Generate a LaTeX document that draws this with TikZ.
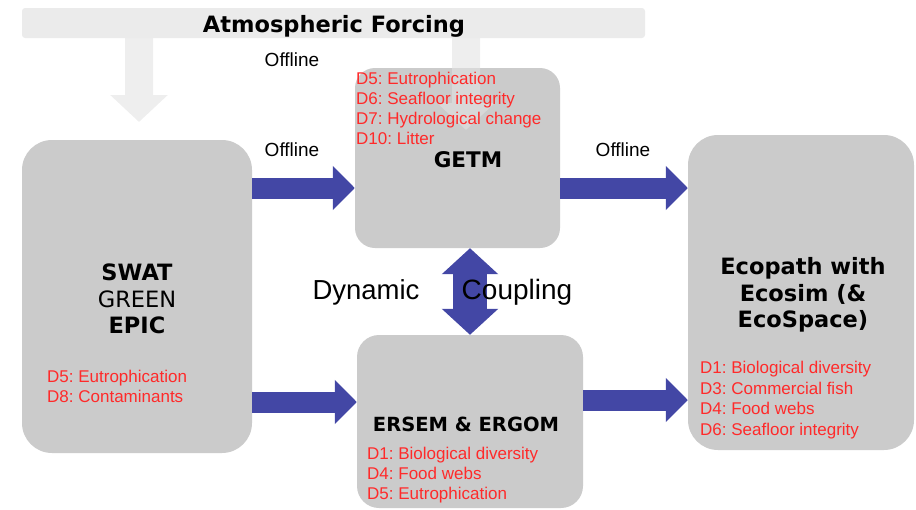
\documentclass[tikz,border=0pt]{standalone}
\usepackage{fontspec}
\setmainfont{Liberation Sans}
\newfontfamily\verdana{DejaVu Sans}
\usetikzlibrary{positioning, arrows.meta}
\definecolor{boxgray}{HTML}{CBCBCB}
\definecolor{bargray}{HTML}{EBEBEB}
\definecolor{fadegray}{HTML}{E2E2E2}
\definecolor{flowblue}{HTML}{4347A5}
\definecolor{dred}{HTML}{FF2A2A}
\frenchspacing

\begin{document}
\begin{tikzpicture}[x=1pt,y=-1pt,
  model/.style={fill=boxgray,rounded corners=#1,inner sep=0pt},
  model/.default=30pt,
  title/.style={font=\verdana\bfseries\fontsize{#1}{26.5}\selectfont,align=center},
  title/.default=22,
  dlist/.style={font=\fontsize{17}{20}\selectfont,text=dred,align=left,anchor=north west,inner sep=0pt},
  plain/.style={font=\fontsize{#1}{22}\selectfont},
  plain/.default=19,
  flow/.style={draw=flowblue,line width=21pt,-{Triangle[width=43pt,length=22pt]}},
  forcing/.style={draw=fadegray,line width=28pt,-{Triangle[width=56pt,length=27pt]}}]
\useasboundingbox (0,0) rectangle (916,509);

\node[fill=bargray,rounded corners=3pt,minimum width=623pt,minimum height=30pt] (atmo) at (333.5,23) {};
\node[model=20pt,minimum width=205pt,minimum height=180pt] (getm) at (457.5,158) {};
\node[model,minimum width=230pt,minimum height=313pt] (swat) at (137,296.5) {};
\node[model,minimum width=226pt,minimum height=315pt] (eco) at (801,292.5) {};
\node[model=22pt,minimum width=226pt,minimum height=173pt] (ersem) at (470,421.5) {};

\coordinate (lefttip) at (139,122);
\coordinate (righttip) at (466,130);
\begin{scope}[transparency group,opacity=0.585]
\draw[forcing] (atmo.south -| lefttip) -- (lefttip);
\draw[forcing] (atmo.south -| righttip) -- (righttip);
\end{scope}

\draw[flow] (swat.east |- 0,188) -- (getm.west |- 0,188);
\draw[flow] (swat.east |- 0,402) -- (ersem.west |- 0,402);
\draw[flow] (getm.east |- 0,188) -- (eco.west |- 0,188);
\draw[flow] (ersem.east |- 0,400) -- (eco.west |- 0,400);
\draw[draw=flowblue,line width=34pt,{Triangle[width=55pt,length=26pt]}-{Triangle[width=55pt,length=26pt]}]
  (getm.south -| 470,0) -- (ersem.north -| 470,0);

\node[title=22.5] (atmolabel) at (334,26) {Atmospheric Forcing};
\node[plain] (offtop) at (292,60) {Offline};
\node[plain] (offleft) at (292,150) {Offline};
\node[plain] (offright) at (623,150) {Offline};

\node[dlist] (getmlist) at (356,72) {D5: Eutrophication\\D6: Seafloor integrity\\D7: Hydrological change\\D10: Litter};
\node[title=21.5] (getmlabel) at (468,160) {GETM};

\node[title=22.5] (swatlabel) at (137,299) {SWAT\\\mdseries GREEN\\EPIC};
\node[dlist] (swatlist) at (47,370) {D5: Eutrophication\\D8: Contaminants};

\node[title=22.5] (ecolabel) at (803,295) {Ecopath with\\Ecosim (\&\\EcoSpace)};
\node[dlist,font=\fontsize{17}{20.7}\selectfont] (ecolist) at (700,361) {D1: Biological diversity\\D3: Commercial fish\\D4: Food webs\\D6: Seafloor integrity};

\node[title=19.5] (ersemlabel) at (466,424) {ERSEM \& ERGOM};
\node[dlist] (ersemlist) at (367,447) {D1: Biological diversity\\D4: Food webs\\D5: Eutrophication};

\node[plain=27.5] (dyn) at (366,292) {Dynamic};
\node[plain=28] (coup) at (517,292) {Coupling};
\end{tikzpicture}
\end{document}
